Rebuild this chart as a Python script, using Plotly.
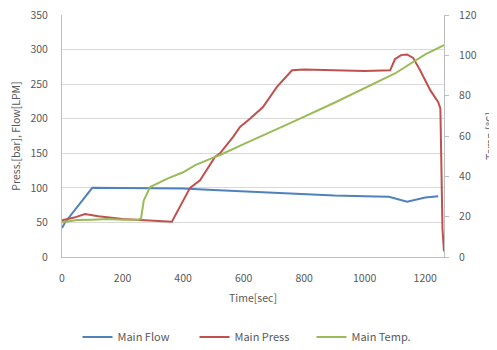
import plotly.graph_objects as go

# Main Flow (left axis)
flow_t = [0, 10, 100, 200, 300, 400, 500, 600, 700, 800, 900, 1000, 1080, 1140, 1200, 1243]
flow_v = [42, 50, 100, 100, 100, 99, 97, 95, 92, 90, 89, 88, 87, 80, 86, 88]

# Main Press (left axis)
press_t = [0, 40, 76, 120, 200, 300, 363, 423, 456, 506, 522, 566, 588, 621, 664, 710, 760,
           800, 900, 1000, 1084, 1100, 1120, 1140, 1160, 1183, 1217, 1243, 1250, 1254, 1257, 1262]
press_v = [53, 57, 62, 59, 55, 52, 51, 100, 111, 145, 150, 174, 188, 200, 217, 246, 270,
           271, 270, 269, 270, 286, 292, 293, 288, 270, 241, 224, 215, 120, 40, 8]

# Main Temp. (right axis)
temp_t = [0, 50, 100, 150, 200, 250, 261, 270, 291, 320, 350, 400, 440, 496, 522, 600,
          700, 770, 900, 1018, 1100, 1200, 1262]
temp_v = [17.2, 18.3, 18.5, 18.8, 18.5, 18.5, 19, 28, 34.7, 37, 39, 42, 45.6, 49, 50.6, 56,
          63, 67.5, 76.5, 85.3, 91, 100.5, 105]

x_ticks = [0, 200, 400, 600, 800, 1000, 1200]
left_ticks = [0, 50, 100, 150, 200, 250, 300, 350]
right_ticks = [0, 20, 40, 60, 80, 100, 120]

txt = "#595959"
fam = "Noto Sans CJK KR, Noto Sans, sans-serif"
tfont = dict(family=fam, size=10.5, color=txt)
font = dict(family=fam, size=10.5, color=txt)

fig = go.Figure()
fig.add_trace(go.Scatter(x=flow_t, y=flow_v, mode="lines", name="Main Flow",
                         line=dict(color="#4F81BD", width=2)))
fig.add_trace(go.Scatter(x=press_t, y=press_v, mode="lines", name="Main Press",
                         line=dict(color="#C0504D", width=2)))
fig.add_trace(go.Scatter(x=temp_t, y=temp_v, mode="lines", name="Main Temp.",
                         line=dict(color="#9BBB59", width=2), yaxis="y2"))

fig.update_layout(
    width=489, height=342,
    margin=dict(l=54, r=53, t=7, b=93),
    paper_bgcolor="white", plot_bgcolor="white",
    font=font,
    showlegend=True,
    legend=dict(orientation="h", x=0.5, xanchor="center", xref="paper",
                y=1 - 329 / 342, yanchor="middle", yref="container",
                entrywidth=72, entrywidthmode="pixels",
                font=dict(family=fam, size=11, color=txt), itemwidth=30, tracegroupgap=0),
    xaxis=dict(range=[0, 1262], tickvals=x_ticks, showgrid=False, automargin=False,
               showline=True, linecolor="#BFBFBF", linewidth=1, ticks="",
               ticklabelstandoff=11, ticklabeloverflow="allow",
               tickfont=tfont, zeroline=False,
               title=dict(text="Time[sec]", font=font, standoff=11)),
    yaxis=dict(range=[0, 350], tickvals=left_ticks, showgrid=True, gridcolor="#D9D9D9",
               gridwidth=1, showline=True, linecolor="#BFBFBF", ticks="", automargin=False,
               ticklabelstandoff=11, ticklabeloverflow="allow",
               tickfont=tfont, zeroline=False,
               title=dict(text="Press.[bar], Flow[LPM]", font=font, standoff=19)),
    yaxis2=dict(range=[0, 120], tickvals=right_ticks, overlaying="y", side="right",
                showgrid=False, showline=True, linecolor="#BFBFBF", ticks="outside",
                ticklen=4, tickcolor="#BFBFBF", tickfont=tfont, zeroline=False, automargin=False,
                ticklabelstandoff=8, ticklabeloverflow="allow",
                title=dict(text="Temp.[℃]", font=font, standoff=12)),
)

fig.write_html("out.html")
